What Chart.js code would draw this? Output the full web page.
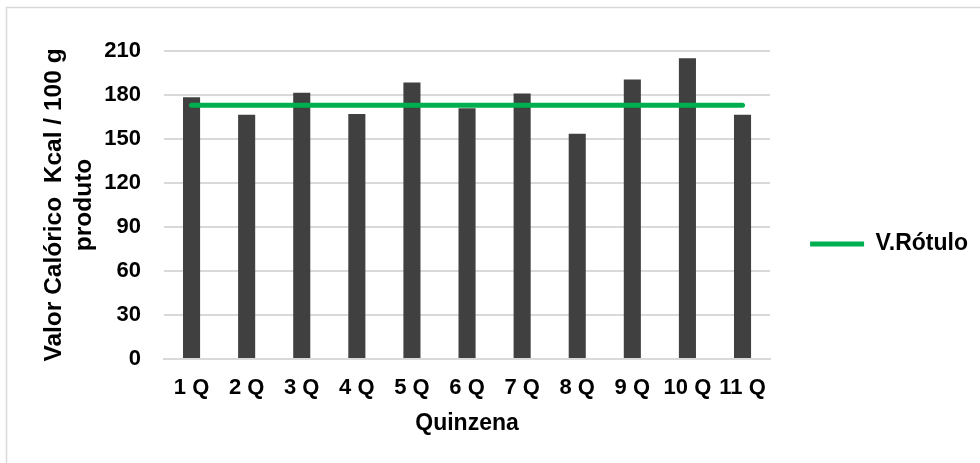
<!DOCTYPE html>
<html>
<head>
<meta charset="utf-8">
<script src="https://cdn.jsdelivr.net/npm/chart.js@4"></script>
<style>
  html, body { margin: 0; padding: 0; background: #fff; }
  #wrap { width: 980px; height: 463px; }
</style>
</head>
<body>
<div id="wrap"><canvas id="kcalChart"></canvas></div>
<script>
// data
const quinzenas = ['1 Q', '2 Q', '3 Q', '4 Q', '5 Q', '6 Q', '7 Q', '8 Q', '9 Q', '10 Q', '11 Q'];
const valorCalorico = [178.5, 166.5, 181.5, 167, 188.5, 171, 181, 153.5, 190.5, 205, 166.5];
const valorRotulo = [173, 173, 173, 173, 173, 173, 173, 173, 173, 173, 173];
const yTicks = [0, 30, 60, 90, 120, 150, 180, 210];

const FAMILY = 'Arial, "Liberation Sans", sans-serif';
const tickFont = { family: FAMILY, size: 22, weight: 'bold' };
const yTitleFont = { family: FAMILY, size: 24.5, weight: 'bold' };
const xTitleFont = { family: FAMILY, size: 23, weight: 'bold' };
const legendFont = { family: FAMILY, size: 23, weight: 'bold' };

// light grey frame of the Excel chart object
const framePlugin = {
    id: 'frame',
    beforeDraw(chart) {
        const c = chart.ctx;
        c.save();
        c.fillStyle = '#fff';
        c.fillRect(0, 0, chart.width, chart.height);
        c.strokeStyle = '#d9d9d9';
        c.lineWidth = 1.5;
        c.strokeRect(6.5, 7.5, chart.width + 50, chart.height + 50);
        c.restore();
    }
};

let ctx = document.getElementById('kcalChart').getContext('2d');
let kcalChart = new Chart(ctx, {
    data: {
        labels: quinzenas,
        datasets: [
            {
                type: 'line',
                label: 'V.Rótulo',
                data: valorRotulo,
                borderColor: '#00b050',
                backgroundColor: '#00b050',
                borderWidth: 5,
                borderCapStyle: 'round',
                pointRadius: 0,
                order: 0
            },
            {
                type: 'bar',
                label: 'Valor Calórico',
                data: valorCalorico,
                backgroundColor: '#404040',
                barPercentage: 0.31,
                categoryPercentage: 1.0,
                order: 1
            }
        ]
    },
    options: {
        responsive: true,
        maintainAspectRatio: false,
        animation: false,
        layout: { padding: { left: 40, top: 51, right: 2, bottom: 26 } },
        plugins: {
            tooltip: { enabled: false },
            legend: {
                position: 'right',
                labels: {
                    font: legendFont,
                    color: '#000',
                    boxWidth: 54,
                    boxHeight: 5,
                    padding: 40,
                    filter: item => item.text === 'V.Rótulo',
                    generateLabels(chart) {
                        const items = Chart.defaults.plugins.legend.labels.generateLabels(chart);
                        items.forEach(it => { it.lineWidth = 0; it.fillStyle = '#00b050'; });
                        return items;
                    }
                }
            }
        },
        scales: {
            x: {
                afterFit: scale => { scale.height = 78; },
                grid: { display: false, drawTicks: false },
                border: { display: true, color: '#d9d9d9', width: 2 },
                ticks: { font: tickFont, color: '#000', padding: 16, maxRotation: 0, autoSkip: false },
                title: { display: true, text: 'Quinzena', font: xTitleFont, color: '#000', padding: 0 }
            },
            y: {
                min: 0,
                max: 210,
                afterFit: scale => { scale.width = 124; },
                afterBuildTicks: axis => { axis.ticks = yTicks.map(v => ({ value: v })); },
                grid: { color: '#d9d9d9', lineWidth: 2, drawTicks: false },
                border: { display: false },
                ticks: { font: tickFont, color: '#000', padding: 23 },
                title: {
                    display: true,
                    text: ['Valor Calórico  Kcal / 100 g', 'produto'],
                    font: yTitleFont,
                    color: '#000',
                    padding: 0
                }
            }
        }
    },
    plugins: [framePlugin]
});
</script>
</body>
</html>
